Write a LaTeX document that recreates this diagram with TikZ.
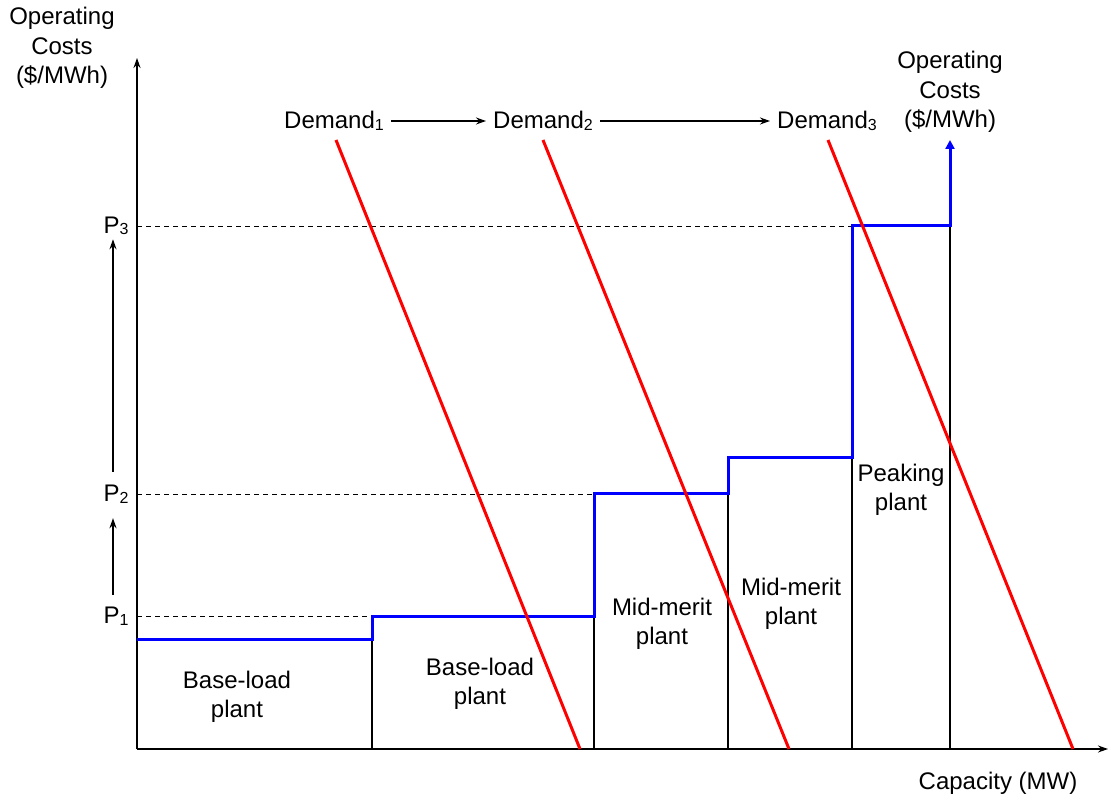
\documentclass[tikz,border=0pt]{standalone}
\usepackage{fontspec}
\setmainfont{Liberation Sans}
\usetikzlibrary{arrows.meta}
\newcommand{\lowidx}[1]{\raisebox{-1.5pt}{\fontsize{16}{16}\selectfont #1}}
\tikzset{
    axis/.style = {line width=1.6pt, -{Stealth[length=10pt,width=7pt]}},
    supply/.style = {draw=blue, line width=3pt, -{Triangle[length=9pt,width=9pt]}},
    demand/.style = {draw=red, line width=3pt},
    divider/.style = {line width=1.2pt},
    price-line/.style = {line width=0.9pt, dash pattern=on 5pt off 4pt},
    shift-arrow/.style = {line width=1.6pt, -{Stealth[length=10pt,width=7pt]}},
    label/.style = {font=\fontsize{24}{29.5}\selectfont, align=center, inner sep=3pt},
}
\begin{document}
\begin{tikzpicture}[x=1pt,y=-1pt]
\useasboundingbox (0,0) rectangle (1112,799);
% axes
\coordinate (origin) at (137,749);
\coordinate (y-end) at (137,58);
\coordinate (x-end) at (1108,749);
\draw[axis] (origin) -- (y-end);
\draw[axis] (origin) -- (x-end);
\node[label] (y-title) at (62,48) {Operating\\Costs\\(\$/MWh)};
\node[label] (x-title) at (998,783) {Capacity (MW)};
% price levels
\draw[price-line] (137,226) -- (852,226);
\draw[price-line] (137,494) -- (594,494);
\draw[price-line] (137,616) -- (372,616);
\node[label] (p3) at (116,226) {P\lowidx{3}};
\node[label] (p2) at (116,494) {P\lowidx{2}};
\node[label] (p1) at (116,616) {P\lowidx{1}};
\draw[shift-arrow, shorten <=9pt, shorten >=12pt] (p1.north -| 113,0) -- (p2.south -| 113,0);
\draw[shift-arrow, shorten <=10pt, shorten >=1pt] (p2.north -| 113,0) -- (p3.south -| 113,0);
% plant blocks
\foreach \x/\y in {372/639, 594/616, 728/494, 852/458, 950/226}
    \draw[divider] (\x,749) -- (\x,\y);
\node[label] (base-1) at (237,697) {Base-load\\plant};
\node[label] (base-2) at (480,684) {Base-load\\plant};
\node[label] (mid-1) at (662,624) {Mid-merit\\plant};
\node[label] (mid-2) at (791,604) {Mid-merit\\plant};
\node[label] (peak) at (901,490) {Peaking\\plant};
% supply curve
\draw[supply] (137,639) -| (372,616) -| (594,494) -| (728,458) -| (852,226) -| (950,140);
\node[label] (s-title) at (950,92) {Operating\\Costs\\(\$/MWh)};
% demand curves
\foreach \a/\b in {336/580, 543/789, 828/1073}
    \draw[demand] (\a,140) -- (\b,749);
\node[label] (d1) at (334,121) {Demand\lowidx{1}};
\node[label] (d2) at (543,121) {Demand\lowidx{2}};
\node[label] (d3) at (827,121) {Demand\lowidx{3}};
\draw[shift-arrow, line width=1.3pt, shorten <=4pt, shorten >=4pt] (d1) -- (d2);
\draw[shift-arrow, line width=1.3pt, shorten <=4pt, shorten >=4pt] (d2) -- (d3);
\end{tikzpicture}
\end{document}
